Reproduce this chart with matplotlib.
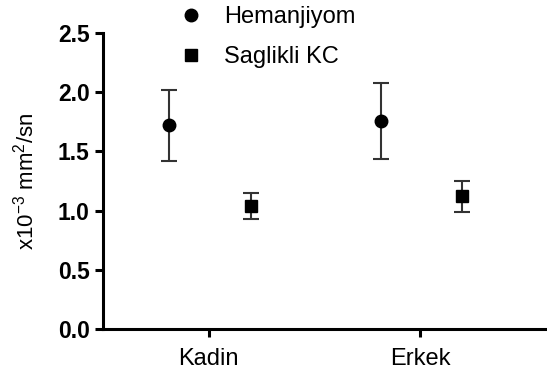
import numpy as np
import matplotlib
matplotlib.use("Agg")
import matplotlib.pyplot as plt

plt.rcParams['font.family'] = ['Liberation Sans', 'DejaVu Sans']
plt.rcParams['mathtext.default'] = 'regular'

groups = ["Kadin", "Erkek"]
series = ["Hemanjiyom", "Saglikli KC"]
hem_mean = [1.72, 1.76]
hem_err = [0.30, 0.32]
kc_mean = [1.04, 1.12]
kc_err = [0.11, 0.13]

fig = plt.figure(figsize=(5.47, 3.72), dpi=100)
ax = fig.add_axes([0.188, 0.116, 0.812, 0.795])

x = np.arange(len(groups))
ax.errorbar(x - 0.185, hem_mean, yerr=hem_err, fmt='o', color='black', ms=9,
            ecolor='#333333', elinewidth=1.5, capsize=6, capthick=1.5, label=series[0])
ax.errorbar(x + 0.2, kc_mean, yerr=kc_err, fmt='s', color='black', ms=8,
            ecolor='#333333', elinewidth=1.5, capsize=6, capthick=1.5, label=series[1])

ax.set_xlim(-0.5, 1.6)
ax.set_ylim(0, 2.5)
ax.set_yticks([0, 0.5, 1.0, 1.5, 2.0, 2.5])
ax.set_yticklabels(['0.0', '0.5', '1.0', '1.5', '2.0', '2.5'], fontweight='bold', fontsize=16.5)
ax.set_xticks(x)
ax.set_xticklabels(groups, fontsize=17)
ax.set_ylabel(r'x10$^{-3}$ mm$^{2}$/sn', fontsize=16, labelpad=14)

for s in ['top', 'right']:
    ax.spines[s].set_visible(False)
for s in ['left', 'bottom']:
    ax.spines[s].set_linewidth(2.2)
ax.tick_params(axis='both', width=2.2, length=6)
ax.tick_params(axis='x', pad=8)

handles, labels = ax.get_legend_handles_labels()
handles = [h[0] for h in handles]
fig.legend(handles, labels, loc='upper left', bbox_to_anchor=(0.288, 1.04), frameon=False,
           fontsize=17, handletextpad=0.9, labelspacing=0.75, handlelength=1.0)

fig.savefig("out.png", dpi=100)
